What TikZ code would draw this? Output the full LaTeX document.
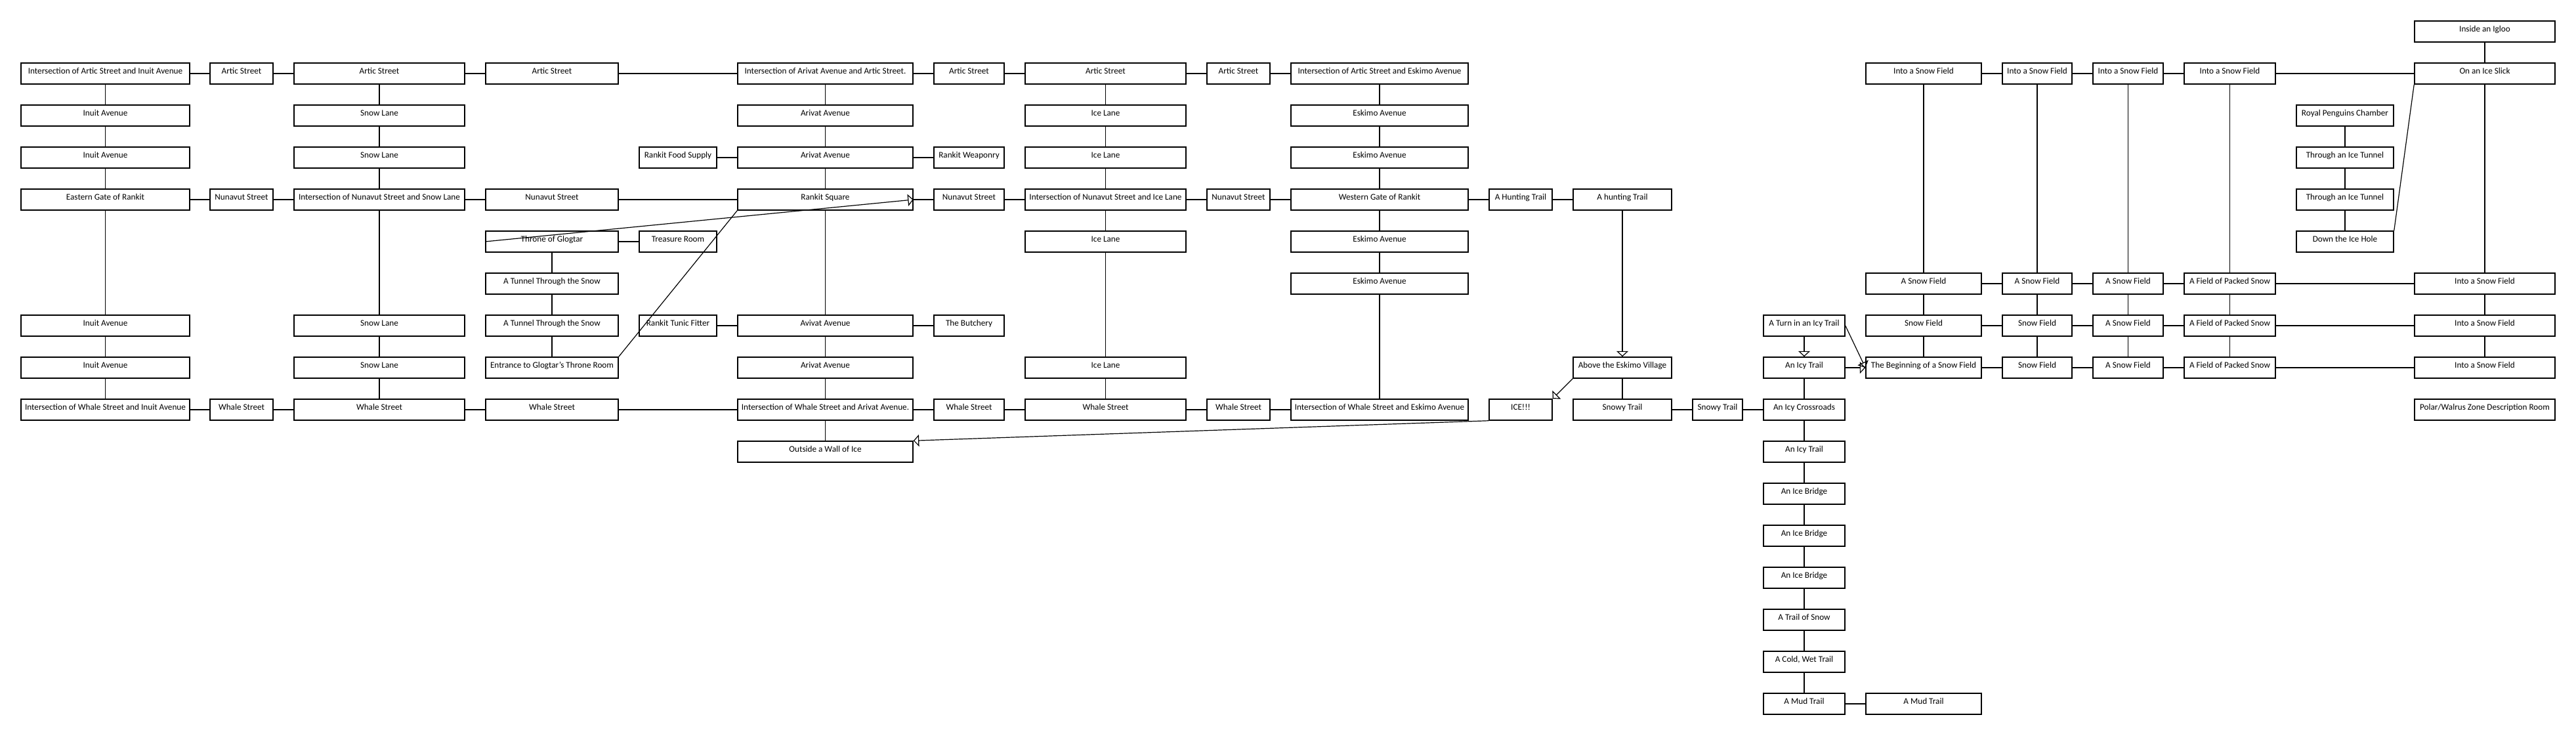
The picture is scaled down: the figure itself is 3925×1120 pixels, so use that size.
\documentclass[tikz,border=0pt]{standalone}
\usepackage{fontspec}
\setmainfont{Carlito}
\usetikzlibrary{arrows.meta}
\tikzset{
  room/.style={draw=black, line width=0.75pt, rectangle, inner sep=0pt,
    minimum height=16pt, text height=2.4pt, text depth=2.4pt,
    font=\fontsize{6.6pt}{8pt}\selectfont, fill=white},
  link/.style={draw=black, line width=0.6pt},
  arr/.style={link, -{Triangle[open, length=4.25pt, width=9pt]}}
}
\newcommand\myroom[5]{%
  \pgfmathsetmacro\mw{(#3-#2)*0.5}%
  \node[room, minimum width=\mw pt] (#1) at ({(#2+#3)/2},{48+64*#4}) {#5};}
\def\kA#1#2#3{\myroom{#1}{32}{289}{#2}{#3}}
\def\kB#1#2#3{\myroom{#1}{320}{416}{#2}{#3}}
\def\kC#1#2#3{\myroom{#1}{448}{708}{#2}{#3}}
\def\kD#1#2#3{\myroom{#1}{740}{942}{#2}{#3}}
\def\kE#1#2#3{\myroom{#1}{974}{1092}{#2}{#3}}
\def\kF#1#2#3{\myroom{#1}{1124}{1391}{#2}{#3}}
\def\kG#1#2#3{\myroom{#1}{1423}{1530}{#2}{#3}}
\def\kH#1#2#3{\myroom{#1}{1562}{1807}{#2}{#3}}
\def\kI#1#2#3{\myroom{#1}{1839}{1935}{#2}{#3}}
\def\kJ#1#2#3{\myroom{#1}{1967}{2237}{#2}{#3}}
\def\kK#1#2#3{\myroom{#1}{2269}{2365}{#2}{#3}}
\def\kL#1#2#3{\myroom{#1}{2397}{2547}{#2}{#3}}
\def\kT#1#2#3{\myroom{#1}{2579}{2655}{#2}{#3}}
\def\kM#1#2#3{\myroom{#1}{2687}{2811}{#2}{#3}}
\def\kN#1#2#3{\myroom{#1}{2843}{3019}{#2}{#3}}
\def\kO#1#2#3{\myroom{#1}{3051}{3157}{#2}{#3}}
\def\kP#1#2#3{\myroom{#1}{3189}{3296}{#2}{#3}}
\def\kQ#1#2#3{\myroom{#1}{3328}{3467}{#2}{#3}}
\def\kR#1#2#3{\myroom{#1}{3499}{3647}{#2}{#3}}
\def\kS#1#2#3{\myroom{#1}{3679}{3893}{#2}{#3}}
\begin{document}
\begin{tikzpicture}[x=0.5pt, y=-0.5pt]
\fill[white] (0,0) rectangle (3925,1120);
\useasboundingbox (0,0) rectangle (3925,1120);
% row 0
\kS{s0}{0}{Inside an Igloo}
% row 1
\kA{a1}{1}{Intersection of Artic Street and Inuit Avenue}
\kB{b1}{1}{Artic Street}
\kC{c1}{1}{Artic Street}
\kD{d1}{1}{Artic Street}
\kF{f1}{1}{Intersection of Arivat Avenue and Artic Street.}
\kG{g1}{1}{Artic Street}
\kH{h1}{1}{Artic Street}
\kI{i1}{1}{Artic Street}
\kJ{j1}{1}{Intersection of Artic Street and Eskimo Avenue}
\kN{n1}{1}{Into a Snow Field}
\kO{o1}{1}{Into a Snow Field}
\kP{p1}{1}{Into a Snow Field}
\kQ{q1}{1}{Into a Snow Field}
\kS{s1}{1}{On an Ice Slick}
% row 2
\kA{a2}{2}{Inuit Avenue}
\kC{c2}{2}{Snow Lane}
\kF{f2}{2}{Arivat Avenue}
\kH{h2}{2}{Ice Lane}
\kJ{j2}{2}{Eskimo Avenue}
\kR{r2}{2}{Royal Penguins Chamber}
% row 3
\kA{a3}{3}{Inuit Avenue}
\kC{c3}{3}{Snow Lane}
\kE{e3}{3}{Rankit Food Supply}
\kF{f3}{3}{Arivat Avenue}
\kG{g3}{3}{Rankit Weaponry}
\kH{h3}{3}{Ice Lane}
\kJ{j3}{3}{Eskimo Avenue}
\kR{r3}{3}{Through an Ice Tunnel}
% row 4
\kA{a4}{4}{Eastern Gate of Rankit}
\kB{b4}{4}{Nunavut Street}
\kC{c4}{4}{Intersection of Nunavut Street and Snow Lane}
\kD{d4}{4}{Nunavut Street}
\kF{f4}{4}{Rankit Square}
\kG{g4}{4}{Nunavut Street}
\kH{h4}{4}{Intersection of Nunavut Street and Ice Lane}
\kI{i4}{4}{Nunavut Street}
\kJ{j4}{4}{Western Gate of Rankit}
\kK{k4}{4}{A Hunting Trail}
\kL{l4}{4}{A hunting Trail}
\kR{r4}{4}{Through an Ice Tunnel}
% row 5
\kD{d5}{5}{Throne of Glogtar}
\kE{e5}{5}{Treasure Room}
\kH{h5}{5}{Ice Lane}
\kJ{j5}{5}{Eskimo Avenue}
\kR{r5}{5}{Down the Ice Hole}
% row 6
\kD{d6}{6}{A Tunnel Through the Snow}
\kJ{j6}{6}{Eskimo Avenue}
\kN{n6}{6}{A Snow Field}
\kO{o6}{6}{A Snow Field}
\kP{p6}{6}{A Snow Field}
\kQ{q6}{6}{A Field of Packed Snow}
\kS{s6}{6}{Into a Snow Field}
% row 7
\kA{a7}{7}{Inuit Avenue}
\kC{c7}{7}{Snow Lane}
\kD{d7}{7}{A Tunnel Through the Snow}
\kE{e7}{7}{Rankit Tunic Fitter}
\kF{f7}{7}{Avivat Avenue}
\kG{g7}{7}{The Butchery}
\kM{m7}{7}{A Turn in an Icy Trail}
\kN{n7}{7}{Snow Field}
\kO{o7}{7}{Snow Field}
\kP{p7}{7}{A Snow Field}
\kQ{q7}{7}{A Field of Packed Snow}
\kS{s7}{7}{Into a Snow Field}
% row 8
\kA{a8}{8}{Inuit Avenue}
\kC{c8}{8}{Snow Lane}
\kD{d8}{8}{Entrance to Glogtar's Throne Room}
\kF{f8}{8}{Arivat Avenue}
\kH{h8}{8}{Ice Lane}
\kL{l8}{8}{Above the Eskimo Village}
\kM{m8}{8}{An Icy Trail}
\kN{n8}{8}{The Beginning of a Snow Field}
\kO{o8}{8}{Snow Field}
\kP{p8}{8}{A Snow Field}
\kQ{q8}{8}{A Field of Packed Snow}
\kS{s8}{8}{Into a Snow Field}
% row 9
\kA{a9}{9}{Intersection of Whale Street and Inuit Avenue}
\kB{b9}{9}{Whale Street}
\kC{c9}{9}{Whale Street}
\kD{d9}{9}{Whale Street}
\kF{f9}{9}{Intersection of Whale Street and Arivat Avenue.}
\kG{g9}{9}{Whale Street}
\kH{h9}{9}{Whale Street}
\kI{i9}{9}{Whale Street}
\kJ{j9}{9}{Intersection of Whale Street and Eskimo Avenue}
\kK{k9}{9}{ICE!!!}
\kL{l9}{9}{Snowy Trail}
\kT{t9}{9}{Snowy Trail}
\kM{m9}{9}{An Icy Crossroads}
\kS{s9}{9}{Polar/Walrus Zone Description Room}
% rows 10-16
\kF{f10}{10}{Outside a Wall of Ice}
\kM{m10}{10}{An Icy Trail}
\kM{m11}{11}{An Ice Bridge}
\kM{m12}{12}{An Ice Bridge}
\kM{m13}{13}{An Ice Bridge}
\kM{m14}{14}{A Trail of Snow}
\kM{m15}{15}{A Cold, Wet Trail}
\kM{m16}{16}{A Mud Trail}
\kN{n16}{16}{A Mud Trail}
% plain links
\foreach \p/\q in {a1/b1,b1/c1,c1/d1,d1/f1,f1/g1,g1/h1,h1/i1,i1/j1,n1/o1,o1/p1,p1/q1,q1/s1,
  e3/f3,f3/g3,
  a4/b4,b4/c4,c4/d4,d4/f4,f4/g4,g4/h4,h4/i4,i4/j4,j4/k4,k4/l4,
  d5/e5,
  n6/o6,o6/p6,p6/q6,q6/s6,
  e7/f7,f7/g7,n7/o7,o7/p7,p7/q7,q7/s7,
  n8/o8,o8/p8,p8/q8,q8/s8,
  a9/b9,b9/c9,c9/d9,d9/f9,f9/g9,g9/h9,h9/i9,i9/j9,l9/t9,t9/m9,
  m16/n16,
  a1/a2,a2/a3,a3/a4,a4/a7,a7/a8,a8/a9,
  c1/c2,c2/c3,c3/c4,c4/c7,c7/c8,c8/c9,
  d5/d6,d6/d7,d7/d8,
  f1/f2,f2/f3,f3/f4,f4/f7,f7/f8,f8/f9,f9/f10,
  h1/h2,h2/h3,h3/h4,h4/h5,h5/h8,h8/h9,
  j1/j2,j2/j3,j3/j4,j4/j5,j5/j6,j6/j9,
  l8/l9,
  m8/m9,m9/m10,m10/m11,m11/m12,m12/m13,m13/m14,m14/m15,m15/m16,
  n1/n6,n6/n7,n7/n8,
  o1/o6,o6/o7,o7/o8,
  p1/p6,p6/p7,p7/p8,
  q1/q6,q6/q7,q7/q8,
  r2/r3,r3/r4,r4/r5,
  s0/s1,s1/s6,s6/s7,s7/s8}
  \draw[link] (\p) -- (\q);
% diagonal plain links
\draw[link] (d8.north east) -- (f4.south west);
\draw[link] (s1.south west) -- (r5.north east);
% arrows
\draw[arr] (d5.west) -- (f4.east);
\draw[arr] (l4) -- (l8);
\draw[arr] (l8.south west) -- (k9.north east);
\draw[arr] (k9.south west) -- (f10.north east);
\draw[arr] (m7) -- (m8);
\draw[arr] (m8) -- (n8);
\draw[arr] (m7.east) -- (n8.west);
\end{tikzpicture}
\end{document}
